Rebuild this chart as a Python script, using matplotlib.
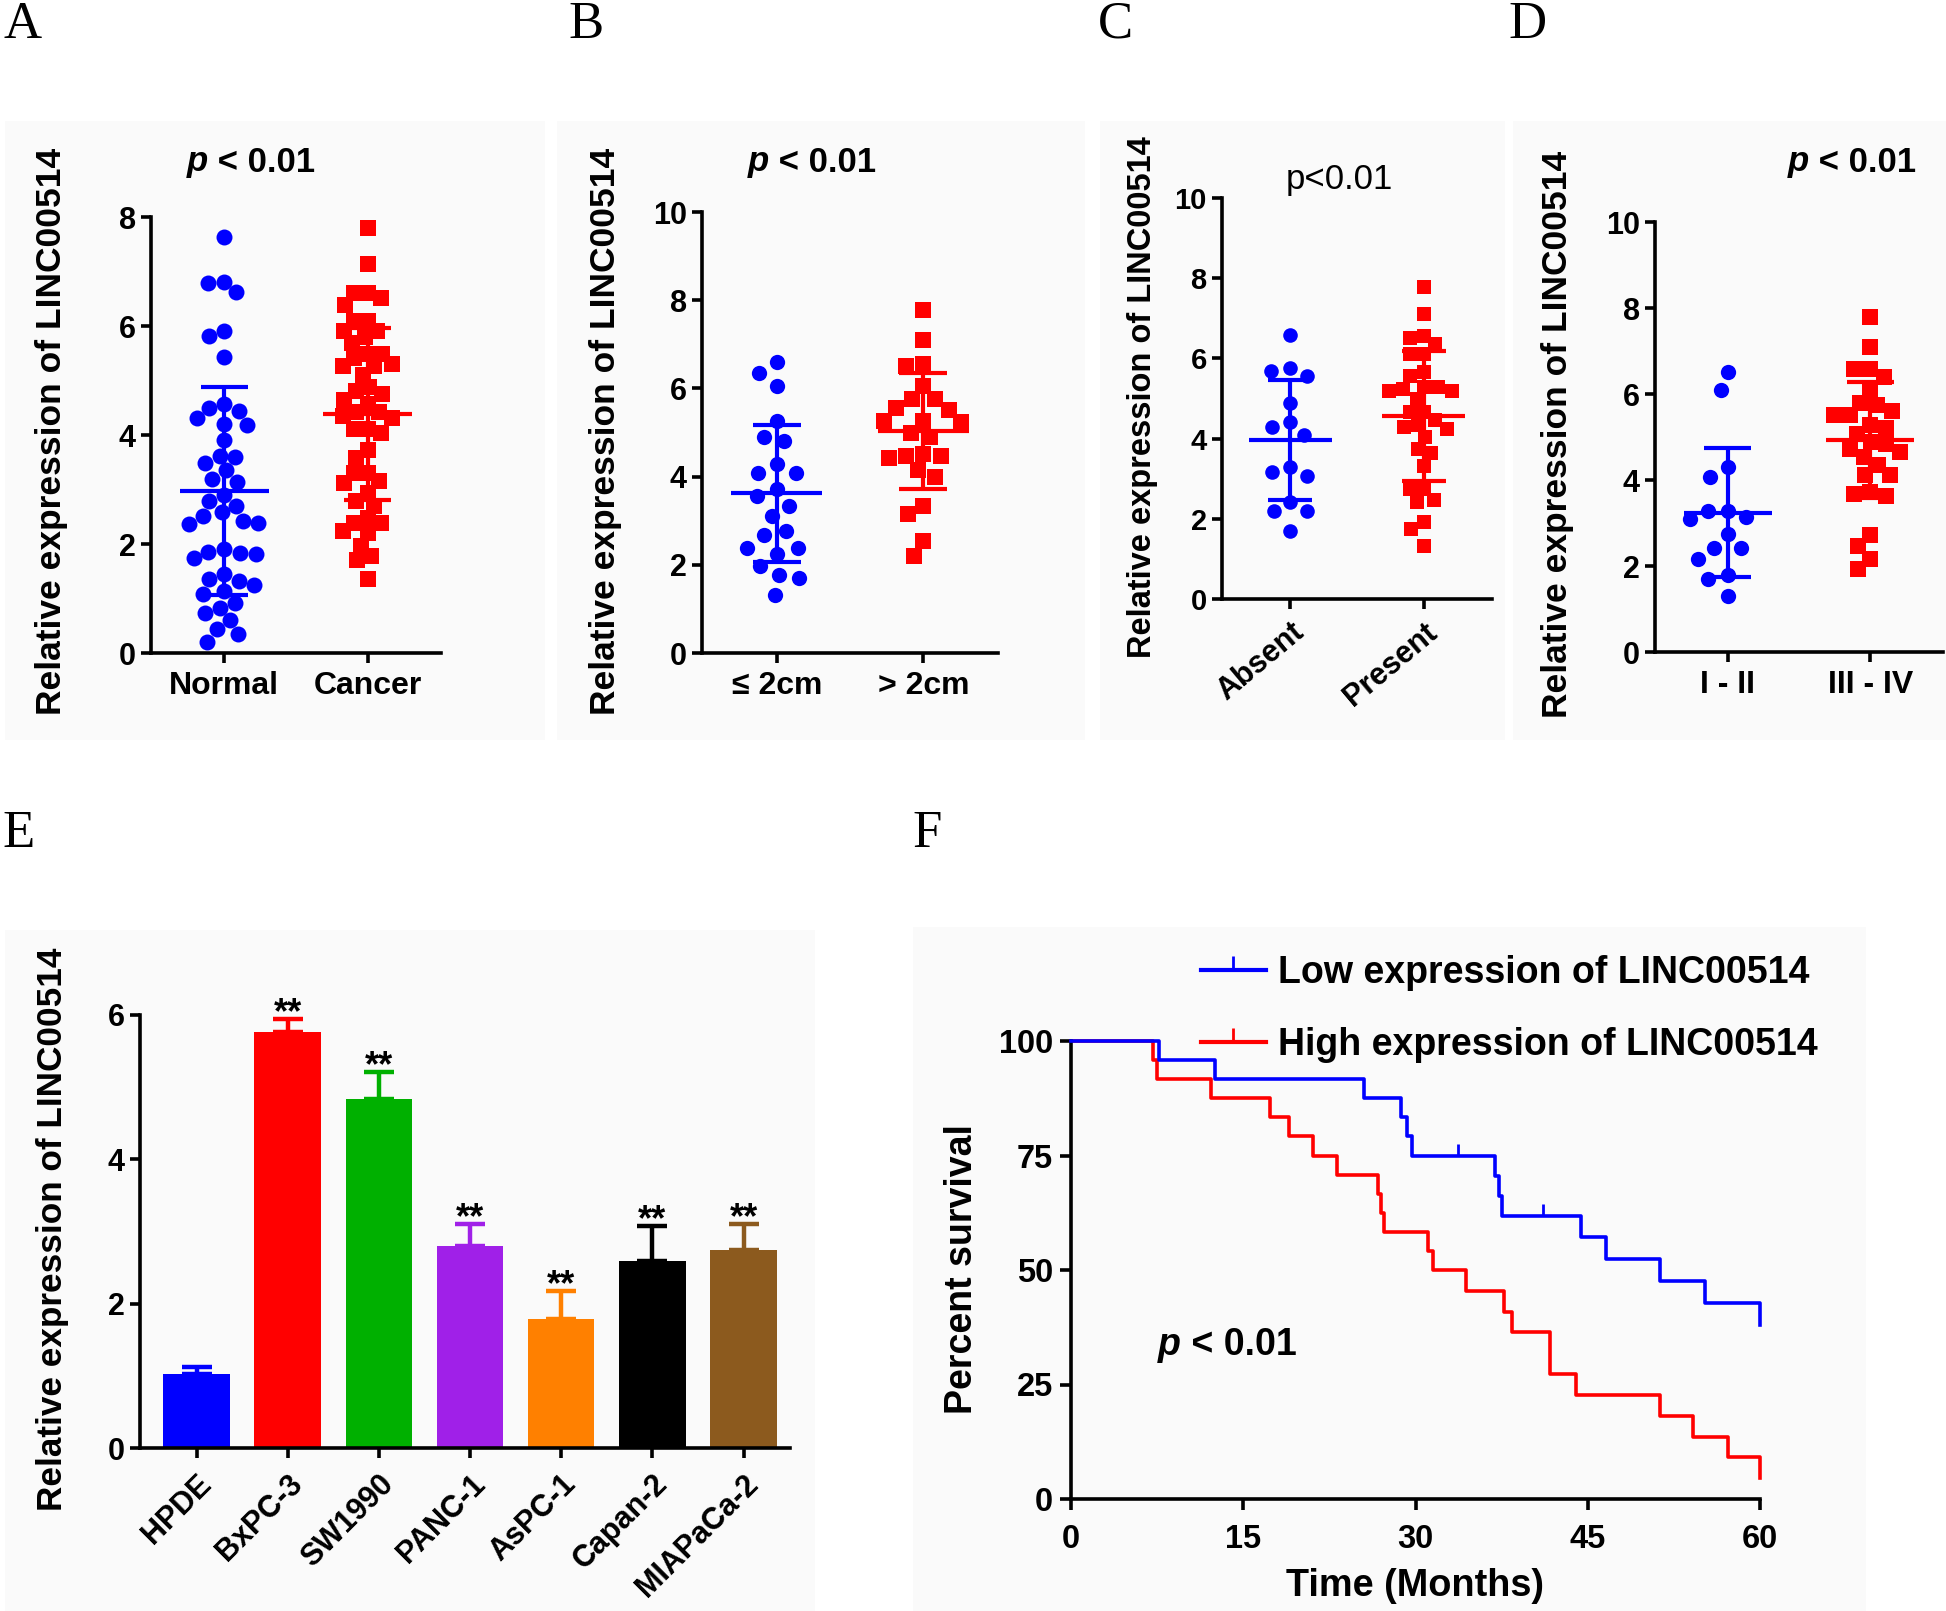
import numpy as np
import matplotlib
matplotlib.use('Agg')
import matplotlib.pyplot as plt
from matplotlib.patches import Rectangle
from matplotlib.lines import Line2D

plt.rcParams['font.family'] = ['Liberation Sans', 'DejaVu Sans']
plt.rcParams['font.weight'] = 'bold'
plt.rcParams['axes.labelweight'] = 'bold'

# ---------------- data ----------------
A_cats = ['Normal', 'Cancer']
A_normal = [7.63, 6.79, 6.62, 6.81, 5.91, 5.82, 5.43, 4.50, 4.57, 4.44, 4.31, 4.19, 4.21, 3.90,
            3.62, 3.59, 3.48, 3.35, 3.20, 3.14, 2.89, 2.78, 2.70, 2.59, 2.51, 2.43, 2.39, 2.36,
            1.86, 1.90, 1.84, 1.82, 1.74, 1.36, 1.45, 1.25, 1.32, 1.09, 1.13, 0.92, 0.83, 0.73,
            0.60, 0.44, 0.35, 0.21]
A_cancer = [7.79, 7.14, 6.60, 6.52, 6.39, 6.60, 6.10, 6.10, 5.91, 5.91, 5.80, 5.68, 5.49, 5.41,
            5.49, 5.30, 5.26, 5.26, 5.11, 4.80, 4.88, 4.76, 4.65, 4.57, 4.42, 4.42, 4.34, 4.31,
            4.11, 4.11, 4.04, 3.73, 3.58, 3.31, 3.31, 3.16, 3.12, 2.93, 2.78, 2.70, 2.47, 2.39,
            2.39, 2.20, 2.24, 1.97, 1.78, 1.71, 1.36]
A_mean = [2.97, 4.38]
A_sd = [1.91, 1.58]

B_cats = ['≤ 2cm', '> 2cm']
B_small = [6.60, 6.36, 6.05, 5.27, 4.90, 4.80, 4.28, 4.09, 4.09, 3.57, 3.71, 3.34, 3.10, 2.67,
           2.77, 2.39, 2.39, 2.25, 1.97, 1.78, 1.70, 1.32]
B_large = [7.78, 7.09, 6.55, 6.50, 6.05, 5.75, 5.75, 5.51, 5.56, 5.23, 5.27, 5.27, 4.99, 4.90,
           4.42, 4.47, 4.47, 4.52, 4.14, 4.00, 3.34, 3.15, 2.53, 2.20]
B_mean = [3.62, 5.04]
B_sd = [1.56, 1.32]

C_cats = ['Absent', 'Present']
C_absent = [6.59, 5.69, 5.76, 5.55, 4.90, 4.30, 4.41, 4.09, 3.29, 3.16, 3.07, 2.43, 2.19, 2.19, 1.70]
C_present = [7.79, 7.11, 6.52, 6.56, 6.35, 6.10, 6.10, 5.66, 5.55, 5.29, 5.29, 5.19, 5.19, 5.24,
             4.98, 4.67, 4.67, 4.35, 4.46, 4.30, 4.25, 4.04, 3.73, 3.63, 3.31, 2.74, 2.74, 2.43,
             2.48, 1.91, 1.75, 1.33]
C_mean = [3.96, 4.56]
C_sd = [1.50, 1.62]

D_cats = ['I - II', 'III - IV']
D_early = [6.52, 6.09, 4.30, 4.08, 3.29, 3.29, 3.09, 3.14, 2.75, 2.42, 2.42, 2.17, 1.79, 1.69, 1.30]
D_late = [7.78, 7.10, 6.59, 6.59, 6.40, 6.09, 5.75, 5.80, 5.51, 5.60, 5.51, 5.22, 5.27, 5.07,
          4.83, 4.88, 4.73, 4.64, 4.54, 4.35, 4.11, 4.11, 3.67, 3.72, 3.62, 2.71, 2.46, 2.17, 1.93]
D_mean = [3.24, 4.93]
D_sd = [1.50, 1.35]

E_cells = ['HPDE', 'BxPC-3', 'SW1990', 'PANC-1', 'AsPC-1', 'Capan-2', 'MIAPaCa-2']
E_mean = [1.03, 5.77, 4.84, 2.80, 1.79, 2.59, 2.75]
E_err = [0.09, 0.17, 0.37, 0.30, 0.39, 0.49, 0.35]
E_sig = ['', '**', '**', '**', '**', '**', '**']
E_colors = ['#0000ff', '#ff0000', '#00b000', '#a020e8', '#ff8000', '#000000', '#8c5a1e']

F_low_t = [0, 7.7, 12.5, 25.5, 28.7, 29.3, 29.7, 36.9, 37.3, 37.5, 44.4, 46.6, 51.3, 55.2, 60.0]
F_low_s = [100, 95.8, 91.7, 87.5, 83.3, 79.2, 75.0, 70.6, 66.2, 61.8, 57.1, 52.4, 47.6, 42.9, 38.1]
F_low_cens_t = [33.7, 41.1]
F_low_cens_s = [75.0, 61.8]
F_high_t = [0, 7.1, 7.5, 12.2, 17.3, 19.0, 21.1, 23.2, 26.7, 27.0, 27.3, 31.1, 31.5, 34.4, 37.7,
            38.4, 41.7, 44.0, 51.3, 54.2, 57.2, 60.0]
F_high_s = [100, 95.8, 91.7, 87.5, 83.3, 79.2, 75.0, 70.8, 66.7, 62.5, 58.3, 54.2, 50.0, 45.5,
            40.9, 36.4, 27.3, 22.7, 18.2, 13.6, 9.1, 4.5]
F_labels = ['Low expression of LINC00514', 'High expression of LINC00514']

BLUE = '#0000ff'
RED = '#ff0000'
YLABEL = 'Relative expression of LINC00514'

# ---------------- figure ----------------
W, H = 1946, 1611
fig = plt.figure(figsize=(W / 100, H / 100), dpi=100)
fig.patch.set_facecolor('white')


def fx(x):
    return x / W


def fy(y):
    return 1 - y / H


def add_ax(l, t, r, b):
    ax = fig.add_axes([fx(l), fy(b), (r - l) / W, (b - t) / H])
    ax.set_facecolor('none')
    for s in ['top', 'right']:
        ax.spines[s].set_visible(False)
    for s in ['left', 'bottom']:
        ax.spines[s].set_linewidth(2.6)
    ax.tick_params(width=2.6, length=7, direction='out')
    return ax


# faint panel backgrounds
for (x0, y0, x1, y1) in [(5, 121, 545, 740), (557, 121, 1085, 740), (1100, 121, 1505, 740),
                         (1513, 121, 1946, 740), (5, 930, 815, 1611), (913, 927, 1866, 1611)]:
    fig.patches.append(Rectangle((fx(x0), fy(y1)), (x1 - x0) / W, (y1 - y0) / H,
                                 transform=fig.transFigure, facecolor='#fafafa',
                                 edgecolor='none', zorder=-10))


def swarm_once(vals, d, sy):
    order = np.argsort(vals)[::-1]
    placed = []
    xs = np.zeros(len(vals))
    for i in order:
        y = vals[i] * sy
        cands = [0.0]
        for (px, py) in placed:
            dy = y - py
            if abs(dy) < d:
                dx = np.sqrt(d * d - dy * dy)
                cands += [px + dx, px - dx]
        cands = sorted(cands, key=lambda c: (abs(c), c))
        chosen = cands[-1]
        for c in cands:
            if all((c - px) ** 2 + (y - py) ** 2 >= d * d - 1e-6 for (px, py) in placed):
                chosen = c
                break
        xs[i] = chosen
        placed.append((chosen, y))
    return xs


def swarm_offsets(ax, vals, diam_px, max_half):
    p0 = ax.transData.transform((0, 0))
    p1 = ax.transData.transform((1, 1))
    sx, sy = abs(p1[0] - p0[0]), abs(p1[1] - p0[1])
    vals = np.asarray(vals, float)
    d = diam_px
    while True:
        xs = swarm_once(vals, d, sy) / sx
        if np.max(np.abs(xs)) <= max_half or d < 2:
            return xs
        d *= 0.96


def scatter_panel(box, groups, cats, means, sds, ylim, yticks, ms, spread,
                  rot=0, xfs=23, yfs=22, max_half=0.27):
    ax = add_ax(*box)
    ax.set_xlim(-0.51, 1.51)
    ax.set_ylim(*ylim)
    ax.set_yticks(yticks)
    ax.set_xticks([0, 1])
    if rot:
        ax.set_xticklabels(cats, rotation=rot, ha='right', rotation_mode='anchor',
                           fontsize=xfs, fontweight='bold')
    else:
        ax.set_xticklabels(cats, fontsize=xfs, fontweight='bold')
    ax.tick_params(axis='y', labelsize=yfs, pad=4)
    ax.tick_params(axis='x', pad=6)
    for lab in ax.get_yticklabels():
        lab.set_fontweight('bold')
    markers = ['o', 's']
    colors = [BLUE, RED]
    diam = ms * 100 / 72 * spread
    for i, vals in enumerate(groups):
        offs = swarm_offsets(ax, vals, diam, max_half)
        ax.plot(i + offs, vals, linestyle='none', marker=markers[i], ms=ms,
                color=colors[i], mew=0, zorder=3, clip_on=False)
        m, s = means[i], sds[i]
        ax.hlines(m, i - 0.31, i + 0.31, color=colors[i], lw=3.0, zorder=4)
        ax.vlines(i, m - s, m + s, color=colors[i], lw=3.0, zorder=4)
        ax.hlines([m - s, m + s], i - 0.165, i + 0.165, color=colors[i], lw=3.0, zorder=4)
    return ax


def p_text(xleft, yc, size):
    t1 = fig.text(fx(xleft), fy(yc), 'p', fontsize=size, fontweight='bold',
                  fontstyle='italic', ha='left', va='center')
    ann = plt.Annotation(' < 0.01', xy=(1, 0), xycoords=t1, ha='left',
                         va='bottom', fontsize=size, fontweight='bold')
    ann.set_figure(fig)
    fig.texts.append(ann)


# ---- Panel A ----
axA = scatter_panel((151, 217, 441, 653), [A_normal, A_cancer], A_cats, A_mean, A_sd,
                    (0, 8), [0, 2, 4, 6, 8], 11.5, 1.0, max_half=0.26)
# ---- Panel B ----
axB = scatter_panel((702, 212, 998, 653), [B_small, B_large], B_cats, B_mean, B_sd,
                    (0, 10), [0, 2, 4, 6, 8, 10], 11, 1.35)
# ---- Panel C ----
axC = scatter_panel((1222, 198, 1492, 599), [C_absent, C_present], C_cats, C_mean, C_sd,
                    (0, 10), [0, 2, 4, 6, 8, 10], 10.5, 1.3, rot=40, xfs=22, yfs=21)
# ---- Panel D ----
axD = scatter_panel((1655, 222, 1943, 652), [D_early, D_late], D_cats, D_mean, D_sd,
                    (0, 10), [0, 2, 4, 6, 8, 10], 11, 1.4)

for ax, (x, y), fs in [(axA, (52, 431), 25.5), (axB, (606, 431), 25.5),
                       (axC, (1143, 397), 23.5), (axD, (1558, 434), 25.5)]:
    fig.text(fx(x), fy(y), YLABEL, rotation=90, ha='center', va='center',
             fontsize=fs, fontweight='bold')

p_text(187, 162, 25)
p_text(748, 162, 25)
p_text(1788, 162, 25)
fig.text(fx(1339), fy(179), 'p<0.01', ha='center', va='center', fontsize=25,
         fontweight='normal')

# ---- Panel E ----
axE = add_ax(140, 1015, 790, 1448)
xE = np.arange(len(E_cells))
axE.bar(xE, E_mean, width=0.73, color=E_colors, zorder=2)
for i in range(len(E_cells)):
    axE.errorbar(xE[i], E_mean[i], yerr=[[0], [E_err[i]]], fmt='none', ecolor=E_colors[i],
                 elinewidth=3.2, capsize=11, capthick=3.2, zorder=1)
    if E_sig[i]:
        axE.annotate(E_sig[i], xy=(xE[i], E_mean[i] + E_err[i]), xytext=(0, -3),
                     textcoords='offset points', ha='center', va='baseline',
                     fontsize=26, fontweight='bold')
axE.set_xlim(-0.62, 6.51)
axE.set_ylim(0, 6)
axE.set_yticks([0, 2, 4, 6])
axE.set_xticks(xE)
axE.set_xticklabels(E_cells, rotation=45, ha='right', rotation_mode='anchor',
                    fontsize=22, fontweight='bold')
axE.tick_params(axis='y', labelsize=22, pad=4)
axE.tick_params(axis='x', pad=8)
for lab in axE.get_yticklabels():
    lab.set_fontweight('bold')
fig.text(fx(53), fy(1229), YLABEL, rotation=90, ha='center', va='center',
         fontsize=25.3, fontweight='bold')

# ---- Panel F ----
axF = add_ax(1071, 1041, 1760, 1499)
axF.plot(F_low_t, F_low_s, drawstyle='steps-post', color=BLUE, lw=2.6, clip_on=False, zorder=3)
axF.plot(F_high_t, F_high_s, drawstyle='steps-post', color=RED, lw=2.6, clip_on=False, zorder=2)
axF.plot(F_low_cens_t, F_low_cens_s, linestyle='none', marker=2, ms=9, mew=2,
         color=BLUE, clip_on=False, zorder=3)
axF.set_xlim(0, 60)
axF.set_ylim(0, 100)
axF.set_xticks([0, 15, 30, 45, 60])
axF.set_yticks([0, 25, 50, 75, 100])
axF.tick_params(labelsize=23.5, length=8)
axF.tick_params(axis='x', pad=10)
axF.tick_params(axis='y', pad=5)
for lab in axF.get_xticklabels() + axF.get_yticklabels():
    lab.set_fontweight('bold')
fig.text(fx(962), fy(1269), 'Percent survival', rotation=90, ha='center', va='center',
         fontsize=27, fontweight='bold')
fig.text(fx(1415), fy(1586), 'Time (Months)', ha='center', va='center',
         fontsize=27.3, fontweight='bold')
p_text(1158, 1345, 27)

handles = [Line2D([], [], color=BLUE, lw=3, marker=2, ms=10, mew=2),
           Line2D([], [], color=RED, lw=3, marker=2, ms=10, mew=2)]
fig.legend(handles, F_labels, loc='center left', bbox_to_anchor=(fx(1201), fy(1009)),
           bbox_transform=fig.transFigure, frameon=False, borderpad=0, borderaxespad=0,
           handlelength=1.73, handletextpad=0.32, labelspacing=0.95, numpoints=1,
           prop=dict(size=27, weight='bold'))

# ---- panel letters ----
for letter, (x, y) in zip('ABCDEF', [(4, 25), (568, 25), (1098, 25), (1508, 25),
                                     (2, 834), (912, 834)]):
    fig.text(fx(x), fy(y), letter, ha='left', va='center', fontsize=38,
             family='Liberation Serif', fontweight='normal')

fig.savefig('out.png', dpi=100, facecolor='white')
